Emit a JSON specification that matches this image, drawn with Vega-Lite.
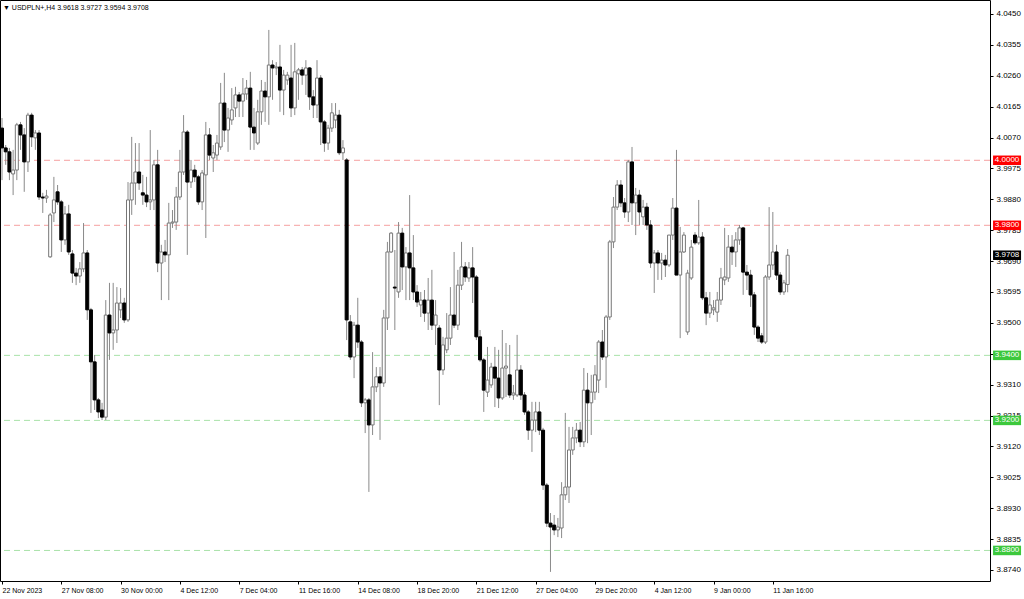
{
"$schema":"https://vega.github.io/schema/vega-lite/v6.json",
"width":990,"height":581,
"autosize":{"type":"none"},
"padding":{"left":0,"top":0,"right":34,"bottom":18},
"background":"white",
"config":{"view":{"stroke":"#000","strokeWidth":1},"axis":{"labelFont":"Liberation Sans","labelColor":"#000","tickColor":"#000","domain":false,"grid":false,"labelOverlap":false,"labelBound":false,"labelFlush":false,"zindex":0}},
"title":{"text":"▼ USDPLN+,H4  3.9618 3.9727 3.9594 3.9708","anchor":"start","frame":"group","offset":-11,"dx":3,"fontSize":7,"font":"Liberation Sans","fontWeight":"normal","color":"#000"},
"datasets":{
"levels":[{"p":4.0,"k":"r","t":"4.0000"},{"p":3.98,"k":"r","t":"3.9800"},{"p":3.94,"k":"g","t":"3.9400"},{"p":3.92,"k":"g","t":"3.9200"},{"p":3.88,"k":"g","t":"3.8800"}],
"tags":[{"p":4.0,"k":"r","t":"4.0000"},{"p":3.98,"k":"r","t":"3.9800"},{"p":3.9708,"k":"b","t":"3.9708"},{"p":3.94,"k":"g","t":"3.9400"},{"p":3.92,"k":"g","t":"3.9200"},{"p":3.88,"k":"g","t":"3.8800"}],
"candles":[
{"i":0,"o":4.0099,"h":4.0130,"l":3.9939,"c":4.0038},
{"i":1,"o":4.0038,"h":4.0047,"l":3.9986,"c":4.0026},
{"i":2,"o":4.0026,"h":4.0038,"l":3.9939,"c":3.9964},
{"i":3,"o":3.9958,"h":4.0032,"l":3.9893,"c":3.9970},
{"i":4,"o":3.9970,"h":4.0115,"l":3.9939,"c":4.0109},
{"i":5,"o":4.0109,"h":4.0118,"l":4.0032,"c":4.0078},
{"i":6,"o":4.0078,"h":4.0099,"l":3.9903,"c":3.9995},
{"i":7,"o":3.9995,"h":4.0146,"l":3.9964,"c":4.0139},
{"i":8,"o":4.0139,"h":4.0146,"l":4.0041,"c":4.0072},
{"i":9,"o":4.0069,"h":4.0093,"l":4.0032,"c":4.0084},
{"i":10,"o":4.0084,"h":4.0093,"l":3.9878,"c":3.9887},
{"i":11,"o":3.9887,"h":3.9900,"l":3.9838,"c":3.9884},
{"i":12,"o":3.9884,"h":3.9909,"l":3.9869,"c":3.9890},
{"i":13,"o":3.9703,"h":3.9838,"l":3.9700,"c":3.9832},
{"i":14,"o":3.9838,"h":3.9949,"l":3.9810,"c":3.9878},
{"i":15,"o":3.9903,"h":3.9924,"l":3.9863,"c":3.9872},
{"i":16,"o":3.9872,"h":3.9878,"l":3.9718,"c":3.9755},
{"i":17,"o":3.9755,"h":3.9859,"l":3.9740,"c":3.9835},
{"i":18,"o":3.9835,"h":3.9863,"l":3.9709,"c":3.9718},
{"i":19,"o":3.9712,"h":3.9724,"l":3.9623,"c":3.9653},
{"i":20,"o":3.9653,"h":3.9669,"l":3.9616,"c":3.9644},
{"i":21,"o":3.9644,"h":3.9687,"l":3.9623,"c":3.9666},
{"i":22,"o":3.9666,"h":3.9807,"l":3.9656,"c":3.9715},
{"i":23,"o":3.9715,"h":3.9724,"l":3.9509,"c":3.9540},
{"i":24,"o":3.9540,"h":3.9546,"l":3.9223,"c":3.9380},
{"i":25,"o":3.9380,"h":3.9401,"l":3.9232,"c":3.9263},
{"i":26,"o":3.9263,"h":3.9269,"l":3.9207,"c":3.9226},
{"i":27,"o":3.9232,"h":3.9254,"l":3.9201,"c":3.9210},
{"i":28,"o":3.9210,"h":3.9570,"l":3.9201,"c":3.9524},
{"i":29,"o":3.9524,"h":3.9623,"l":3.9386,"c":3.9469},
{"i":30,"o":3.9469,"h":3.9623,"l":3.9417,"c":3.9478},
{"i":31,"o":3.9478,"h":3.9610,"l":3.9438,"c":3.9561},
{"i":32,"o":3.9540,"h":3.9607,"l":3.9515,"c":3.9561},
{"i":33,"o":3.9561,"h":3.9577,"l":3.9500,"c":3.9509},
{"i":34,"o":3.9509,"h":3.9933,"l":3.9503,"c":3.9878},
{"i":35,"o":3.9878,"h":4.0072,"l":3.9832,"c":3.9930},
{"i":36,"o":3.9930,"h":4.0053,"l":3.9863,"c":3.9964},
{"i":37,"o":3.9964,"h":4.0053,"l":3.9909,"c":3.9930},
{"i":38,"o":3.9900,"h":3.9955,"l":3.9863,"c":3.9893},
{"i":39,"o":3.9893,"h":3.9949,"l":3.9856,"c":3.9872},
{"i":40,"o":3.9872,"h":4.0093,"l":3.9847,"c":3.9878},
{"i":41,"o":3.9878,"h":4.0001,"l":3.9847,"c":3.9986},
{"i":42,"o":3.9986,"h":4.0032,"l":3.9656,"c":3.9684},
{"i":43,"o":3.9684,"h":3.9740,"l":3.9570,"c":3.9718},
{"i":44,"o":3.9718,"h":3.9755,"l":3.9687,"c":3.9709},
{"i":45,"o":3.9709,"h":3.9869,"l":3.9570,"c":3.9807},
{"i":46,"o":3.9807,"h":3.9847,"l":3.9792,"c":3.9810},
{"i":47,"o":3.9810,"h":3.9918,"l":3.9786,"c":3.9887},
{"i":48,"o":3.9887,"h":4.0032,"l":3.9878,"c":3.9964},
{"i":49,"o":3.9964,"h":4.0139,"l":3.9955,"c":4.0087},
{"i":50,"o":4.0087,"h":4.0093,"l":3.9709,"c":3.9933},
{"i":51,"o":3.9933,"h":4.0001,"l":3.9915,"c":3.9970},
{"i":52,"o":3.9970,"h":3.9986,"l":3.9933,"c":3.9949},
{"i":53,"o":3.9949,"h":3.9955,"l":3.9863,"c":3.9872},
{"i":54,"o":3.9872,"h":3.9970,"l":3.9847,"c":3.9961},
{"i":55,"o":3.9955,"h":4.0118,"l":3.9761,"c":4.0078},
{"i":56,"o":4.0078,"h":4.0099,"l":4.0001,"c":4.0016},
{"i":57,"o":4.0007,"h":4.0047,"l":3.9964,"c":4.0023},
{"i":58,"o":4.0016,"h":4.0078,"l":4.0001,"c":4.0053},
{"i":59,"o":4.0041,"h":4.0238,"l":4.0032,"c":4.0176},
{"i":60,"o":4.0176,"h":4.0269,"l":4.0056,"c":4.0093},
{"i":61,"o":4.0093,"h":4.0161,"l":4.0026,"c":4.0130},
{"i":62,"o":4.0124,"h":4.0222,"l":4.0109,"c":4.0155},
{"i":63,"o":4.0161,"h":4.0226,"l":4.0133,"c":4.0201},
{"i":64,"o":4.0201,"h":4.0210,"l":4.0133,"c":4.0182},
{"i":65,"o":4.0182,"h":4.0253,"l":4.0133,"c":4.0204},
{"i":66,"o":4.0204,"h":4.0247,"l":4.0186,"c":4.0222},
{"i":67,"o":4.0222,"h":4.0272,"l":4.0032,"c":4.0102},
{"i":68,"o":4.0102,"h":4.0161,"l":4.0032,"c":4.0084},
{"i":69,"o":4.0053,"h":4.0186,"l":4.0047,"c":4.0149},
{"i":70,"o":4.0149,"h":4.0247,"l":4.0109,"c":4.0213},
{"i":71,"o":4.0213,"h":4.0241,"l":4.0118,"c":4.0195},
{"i":72,"o":4.0195,"h":4.0401,"l":4.0109,"c":4.0293},
{"i":73,"o":4.0293,"h":4.0308,"l":4.0186,"c":4.0284},
{"i":74,"o":4.0284,"h":4.0302,"l":4.0262,"c":4.0287},
{"i":75,"o":4.0287,"h":4.0355,"l":4.0149,"c":4.0216},
{"i":76,"o":4.0216,"h":4.0278,"l":4.0139,"c":4.0262},
{"i":77,"o":4.0247,"h":4.0272,"l":4.0232,"c":4.0262},
{"i":78,"o":4.0253,"h":4.0355,"l":4.0133,"c":4.0161},
{"i":79,"o":4.0161,"h":4.0361,"l":4.0139,"c":4.0272},
{"i":80,"o":4.0266,"h":4.0284,"l":4.0186,"c":4.0278},
{"i":81,"o":4.0278,"h":4.0287,"l":4.0232,"c":4.0262},
{"i":82,"o":4.0262,"h":4.0308,"l":4.0201,"c":4.0284},
{"i":83,"o":4.0284,"h":4.0287,"l":4.0155,"c":4.0195},
{"i":84,"o":4.0195,"h":4.0216,"l":4.0130,"c":4.0170},
{"i":85,"o":4.0170,"h":4.0308,"l":4.0130,"c":4.0253},
{"i":86,"o":4.0253,"h":4.0262,"l":4.0047,"c":4.0118},
{"i":87,"o":4.0118,"h":4.0124,"l":4.0026,"c":4.0053},
{"i":88,"o":4.0053,"h":4.0109,"l":4.0032,"c":4.0099},
{"i":89,"o":4.0099,"h":4.0176,"l":4.0087,"c":4.0146},
{"i":90,"o":4.0124,"h":4.0176,"l":4.0099,"c":4.0139},
{"i":91,"o":4.0139,"h":4.0155,"l":4.0016,"c":4.0023},
{"i":92,"o":4.0023,"h":4.0062,"l":4.0001,"c":4.0038},
{"i":93,"o":4.0001,"h":4.0007,"l":3.9447,"c":3.9509},
{"i":94,"o":3.9503,"h":3.9524,"l":3.9386,"c":3.9395},
{"i":95,"o":3.9395,"h":3.9503,"l":3.9330,"c":3.9493},
{"i":96,"o":3.9493,"h":3.9577,"l":3.9423,"c":3.9441},
{"i":97,"o":3.9441,"h":3.9447,"l":3.9241,"c":3.9254},
{"i":98,"o":3.9254,"h":3.9269,"l":3.9161,"c":3.9263},
{"i":99,"o":3.9263,"h":3.9269,"l":3.8980,"c":3.9186},
{"i":100,"o":3.9186,"h":3.9410,"l":3.9155,"c":3.9303},
{"i":101,"o":3.9303,"h":3.9364,"l":3.9287,"c":3.9334},
{"i":102,"o":3.9334,"h":3.9364,"l":3.9140,"c":3.9315},
{"i":103,"o":3.9315,"h":3.9540,"l":3.9303,"c":3.9515},
{"i":104,"o":3.9515,"h":3.9749,"l":3.9478,"c":3.9718},
{"i":105,"o":3.9718,"h":3.9779,"l":3.9715,"c":3.9776},
{"i":106,"o":3.9610,"h":3.9724,"l":3.9478,"c":3.9607},
{"i":107,"o":3.9595,"h":3.9810,"l":3.9577,"c":3.9776},
{"i":108,"o":3.9776,"h":3.9792,"l":3.9601,"c":3.9672},
{"i":109,"o":3.9672,"h":3.9733,"l":3.9570,"c":3.9715},
{"i":110,"o":3.9715,"h":3.9893,"l":3.9570,"c":3.9669},
{"i":111,"o":3.9669,"h":3.9770,"l":3.9570,"c":3.9595},
{"i":112,"o":3.9595,"h":3.9616,"l":3.9549,"c":3.9564},
{"i":113,"o":3.9555,"h":3.9595,"l":3.9518,"c":3.9570},
{"i":114,"o":3.9570,"h":3.9601,"l":3.9503,"c":3.9530},
{"i":115,"o":3.9530,"h":3.9638,"l":3.9478,"c":3.9570},
{"i":116,"o":3.9570,"h":3.9663,"l":3.9478,"c":3.9493},
{"i":117,"o":3.9493,"h":3.9570,"l":3.9432,"c":3.9524},
{"i":118,"o":3.9484,"h":3.9493,"l":3.9247,"c":3.9355},
{"i":119,"o":3.9355,"h":3.9457,"l":3.9340,"c":3.9432},
{"i":120,"o":3.9417,"h":3.9530,"l":3.9407,"c":3.9453},
{"i":121,"o":3.9453,"h":3.9610,"l":3.9432,"c":3.9524},
{"i":122,"o":3.9524,"h":3.9718,"l":3.9484,"c":3.9493},
{"i":123,"o":3.9493,"h":3.9663,"l":3.9478,"c":3.9616},
{"i":124,"o":3.9616,"h":3.9749,"l":3.9601,"c":3.9672},
{"i":125,"o":3.9672,"h":3.9687,"l":3.9626,"c":3.9641},
{"i":126,"o":3.9638,"h":3.9687,"l":3.9626,"c":3.9669},
{"i":127,"o":3.9669,"h":3.9733,"l":3.9561,"c":3.9641},
{"i":128,"o":3.9641,"h":3.9647,"l":3.9447,"c":3.9457},
{"i":129,"o":3.9457,"h":3.9478,"l":3.9380,"c":3.9386},
{"i":130,"o":3.9386,"h":3.9392,"l":3.9226,"c":3.9293},
{"i":131,"o":3.9287,"h":3.9426,"l":3.9272,"c":3.9324},
{"i":132,"o":3.9309,"h":3.9377,"l":3.9300,"c":3.9364},
{"i":133,"o":3.9364,"h":3.9426,"l":3.9241,"c":3.9330},
{"i":134,"o":3.9330,"h":3.9417,"l":3.9238,"c":3.9269},
{"i":135,"o":3.9269,"h":3.9478,"l":3.9263,"c":3.9361},
{"i":136,"o":3.9361,"h":3.9438,"l":3.9272,"c":3.9367},
{"i":137,"o":3.9340,"h":3.9432,"l":3.9269,"c":3.9278},
{"i":138,"o":3.9278,"h":3.9309,"l":3.9263,"c":3.9284},
{"i":139,"o":3.9278,"h":3.9463,"l":3.9272,"c":3.9355},
{"i":140,"o":3.9355,"h":3.9370,"l":3.9263,"c":3.9278},
{"i":141,"o":3.9278,"h":3.9287,"l":3.9217,"c":3.9226},
{"i":142,"o":3.9226,"h":3.9232,"l":3.9140,"c":3.9170},
{"i":143,"o":3.9170,"h":3.9257,"l":3.9103,"c":3.9201},
{"i":144,"o":3.9201,"h":3.9257,"l":3.9164,"c":3.9226},
{"i":145,"o":3.9226,"h":3.9257,"l":3.9155,"c":3.9170},
{"i":146,"o":3.9170,"h":3.9177,"l":3.8986,"c":3.9001},
{"i":147,"o":3.9001,"h":3.9007,"l":3.8872,"c":3.8884},
{"i":148,"o":3.8884,"h":3.8915,"l":3.8734,"c":3.8872},
{"i":149,"o":3.8878,"h":3.8909,"l":3.8847,"c":3.8863},
{"i":150,"o":3.8863,"h":3.8900,"l":3.8841,"c":3.8872},
{"i":151,"o":3.8869,"h":3.9010,"l":3.8838,"c":3.8971},
{"i":152,"o":3.8971,"h":3.9223,"l":3.8955,"c":3.8995},
{"i":153,"o":3.8995,"h":3.9180,"l":3.8946,"c":3.9109},
{"i":154,"o":3.9109,"h":3.9180,"l":3.9094,"c":3.9146},
{"i":155,"o":3.9146,"h":3.9192,"l":3.9130,"c":3.9170},
{"i":156,"o":3.9170,"h":3.9195,"l":3.9118,"c":3.9134},
{"i":157,"o":3.9134,"h":3.9361,"l":3.9118,"c":3.9293},
{"i":158,"o":3.9293,"h":3.9346,"l":3.9130,"c":3.9254},
{"i":159,"o":3.9254,"h":3.9340,"l":3.9155,"c":3.9287},
{"i":160,"o":3.9287,"h":3.9370,"l":3.9263,"c":3.9340},
{"i":161,"o":3.9324,"h":3.9447,"l":3.9284,"c":3.9441},
{"i":162,"o":3.9441,"h":3.9478,"l":3.9386,"c":3.9395},
{"i":163,"o":3.9395,"h":3.9524,"l":3.9300,"c":3.9518},
{"i":164,"o":3.9518,"h":3.9755,"l":3.9509,"c":3.9749},
{"i":165,"o":3.9749,"h":3.9887,"l":3.9730,"c":3.9856},
{"i":166,"o":3.9856,"h":3.9939,"l":3.9847,"c":3.9924},
{"i":167,"o":3.9924,"h":3.9939,"l":3.9856,"c":3.9869},
{"i":168,"o":3.9869,"h":3.9884,"l":3.9823,"c":3.9841},
{"i":169,"o":3.9841,"h":4.0001,"l":3.9810,"c":3.9995},
{"i":170,"o":3.9995,"h":4.0041,"l":3.9801,"c":3.9869},
{"i":171,"o":3.9869,"h":3.9915,"l":3.9770,"c":3.9893},
{"i":172,"o":3.9893,"h":3.9909,"l":3.9801,"c":3.9841},
{"i":173,"o":3.9826,"h":3.9878,"l":3.9801,"c":3.9856},
{"i":174,"o":3.9856,"h":3.9869,"l":3.9786,"c":3.9801},
{"i":175,"o":3.9801,"h":3.9816,"l":3.9669,"c":3.9684},
{"i":176,"o":3.9684,"h":3.9724,"l":3.9592,"c":3.9715},
{"i":177,"o":3.9715,"h":3.9724,"l":3.9632,"c":3.9684},
{"i":178,"o":3.9684,"h":3.9715,"l":3.9632,"c":3.9693},
{"i":179,"o":3.9693,"h":3.9709,"l":3.9641,"c":3.9678},
{"i":180,"o":3.9678,"h":3.9770,"l":3.9672,"c":3.9770},
{"i":181,"o":3.9770,"h":3.9884,"l":3.9755,"c":3.9853},
{"i":182,"o":3.9853,"h":4.0032,"l":3.9647,"c":3.9647},
{"i":183,"o":3.9647,"h":3.9795,"l":3.9453,"c":3.9718},
{"i":184,"o":3.9718,"h":3.9779,"l":3.9715,"c":3.9770},
{"i":185,"o":3.9472,"h":3.9663,"l":3.9463,"c":3.9653},
{"i":186,"o":3.9638,"h":3.9755,"l":3.9632,"c":3.9733},
{"i":187,"o":3.9770,"h":3.9779,"l":3.9740,"c":3.9746},
{"i":188,"o":3.9746,"h":3.9878,"l":3.9740,"c":3.9764},
{"i":189,"o":3.9764,"h":3.9779,"l":3.9570,"c":3.9577},
{"i":190,"o":3.9577,"h":3.9595,"l":3.9493,"c":3.9530},
{"i":191,"o":3.9530,"h":3.9595,"l":3.9515,"c":3.9555},
{"i":192,"o":3.9540,"h":3.9570,"l":3.9524,"c":3.9546},
{"i":193,"o":3.9533,"h":3.9595,"l":3.9503,"c":3.9570},
{"i":194,"o":3.9570,"h":3.9669,"l":3.9555,"c":3.9638},
{"i":195,"o":3.9632,"h":3.9792,"l":3.9616,"c":3.9641},
{"i":196,"o":3.9638,"h":3.9770,"l":3.9626,"c":3.9733},
{"i":197,"o":3.9733,"h":3.9770,"l":3.9678,"c":3.9718},
{"i":198,"o":3.9718,"h":3.9779,"l":3.9672,"c":3.9755},
{"i":199,"o":3.9755,"h":3.9801,"l":3.9740,"c":3.9792},
{"i":200,"o":3.9792,"h":3.9795,"l":3.9586,"c":3.9656},
{"i":201,"o":3.9656,"h":3.9678,"l":3.9601,"c":3.9647},
{"i":202,"o":3.9647,"h":3.9663,"l":3.9549,"c":3.9586},
{"i":203,"o":3.9586,"h":3.9595,"l":3.9463,"c":3.9487},
{"i":204,"o":3.9487,"h":3.9493,"l":3.9441,"c":3.9453},
{"i":205,"o":3.9460,"h":3.9469,"l":3.9435,"c":3.9441},
{"i":206,"o":3.9441,"h":3.9647,"l":3.9435,"c":3.9641},
{"i":207,"o":3.9641,"h":3.9856,"l":3.9632,"c":3.9678},
{"i":208,"o":3.9678,"h":3.9841,"l":3.9663,"c":3.9718},
{"i":209,"o":3.9718,"h":3.9740,"l":3.9632,"c":3.9647},
{"i":210,"o":3.9647,"h":3.9656,"l":3.9586,"c":3.9595},
{"i":211,"o":3.9595,"h":3.9632,"l":3.9586,"c":3.9623},
{"i":212,"o":3.9618,"h":3.9727,"l":3.9594,"c":3.9708}
]},
"layer":[
{"data":{"name":"levels"},"mark":{"type":"rule","strokeWidth":1,"strokeDash":[6,4]},
 "encoding":{"y":{"field":"p","type":"quantitative","scale":{"domain":[3.8706,4.0493],"nice":false,"zero":false},"title":null,
   "axis":{"orient":"right","values":[4.045,4.0355,4.026,4.0165,4.007,3.9975,3.988,3.9785,3.969,3.9595,3.95,3.9405,3.931,3.9215,3.912,3.9025,3.893,3.8835,3.874],"tickCount":40,"format":".4f","tickSize":3,"labelPadding":3,"labelFontSize":8,"labelBaseline":"middle","labelOverlap":false,"labelBound":false,"zindex":0}},
  "color":{"field":"k","type":"nominal","scale":{"domain":["r","g"],"range":["#f5a0a0","#a8e2a8"]},"legend":null}}},
{"data":{"name":"candles"},"mark":{"type":"rule","color":"#8a8a8a","strokeWidth":1},
 "encoding":{"x":{"field":"i","type":"quantitative","scale":{"domain":[-0.54,266.6],"nice":false,"zero":false,"padding":0},"title":null,
   "axis":{"values":[0,16,32,48,64,80,96,112,128,144,160,176,192,208],"tickCount":40,"labelExpr":"['22 Nov 2023','27 Nov 08:00','30 Nov 00:00','4 Dec 12:00','7 Dec 04:00','11 Dec 16:00','14 Dec 08:00','18 Dec 20:00','21 Dec 12:00','27 Dec 04:00','29 Dec 20:00','4 Jan 12:00','9 Jan 00:00','11 Jan 16:00'][round(datum.value/16)]","labelAlign":"left","labelFontSize":7,"tickSize":3,"labelPadding":2,"labelOverlap":false,"labelFlush":false,"zindex":0}},
  "y":{"field":"l","type":"quantitative","title":null,"axis":{"orient":"right","values":[4.045,4.0355,4.026,4.0165,4.007,3.9975,3.988,3.9785,3.969,3.9595,3.95,3.9405,3.931,3.9215,3.912,3.9025,3.893,3.8835,3.874],"tickCount":40,"format":".4f","tickSize":3,"labelPadding":3,"labelFontSize":8,"labelBaseline":"middle","labelOverlap":false,"labelBound":false,"zindex":0}},"y2":{"field":"h"}}},
{"mark":{"type":"rule","color":"#c8c8c8","strokeWidth":1},"encoding":{"y":{"datum":3.9708,"type":"quantitative","title":null}}},
{"data":{"name":"candles"},"mark":{"type":"bar","width":3,"strokeWidth":1},
 "encoding":{"x":{"field":"i","type":"quantitative","title":null},
  "y":{"field":"o","type":"quantitative","title":null},"y2":{"field":"c"},
  "fill":{"condition":{"test":"datum.c > datum.o","value":"#ffffff"},"value":"#000000"},
  "stroke":{"condition":{"test":"datum.c > datum.o","value":"#777777"},"value":"#000000"}}},
{"data":{"name":"tags"},"mark":{"type":"point","shape":"M-1,-0.34L1,-0.34L1,0.34L-1,0.34Z","size":784,"filled":true,"opacity":1,"clip":false,"zindex":2},
 "encoding":{"x":{"datum":271.2,"type":"quantitative","title":null},"y":{"field":"p","type":"quantitative","title":null},
  "fill":{"field":"k","type":"nominal","scale":{"domain":["r","g","b"],"range":["#ff0000","#3cc83c","#000000"]},"legend":null}}},
{"data":{"name":"tags"},"mark":{"type":"text","color":"#ffffff","font":"Liberation Sans","fontSize":8,"align":"center","baseline":"middle","clip":false,"zindex":3},
 "encoding":{"x":{"datum":271.2,"type":"quantitative","title":null},"y":{"field":"p","type":"quantitative","title":null},"text":{"field":"t"}}}
]
}
